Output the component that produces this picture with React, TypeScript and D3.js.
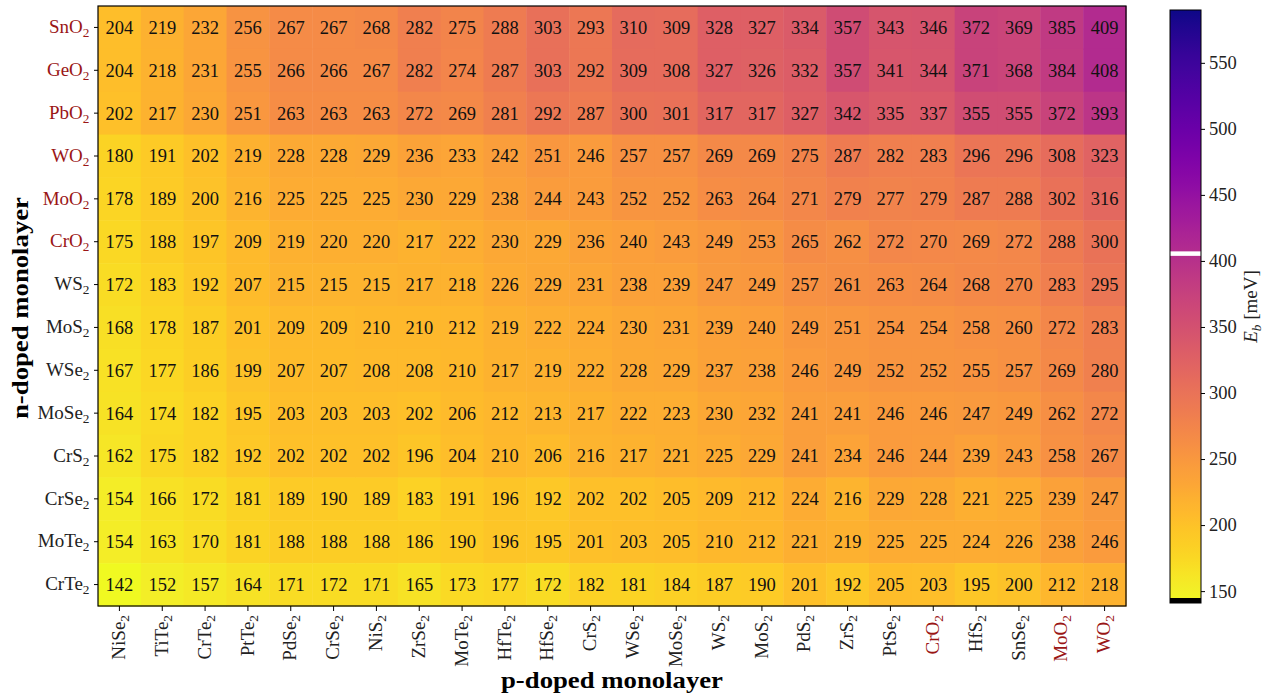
import React, { useRef, useEffect } from "react";
import * as d3 from "d3";

// n-doped (rows, top to bottom) and p-doped (columns, left to right)
const nDoped = ["SnO2", "GeO2", "PbO2", "WO2", "MoO2", "CrO2", "WS2", "MoS2", "WSe2", "MoSe2", "CrS2", "CrSe2", "MoTe2", "CrTe2"];
const pDoped = ["NiSe2", "TiTe2", "CrTe2", "PtTe2", "PdSe2", "CrSe2", "NiS2", "ZrSe2", "MoTe2", "HfTe2", "HfSe2", "CrS2", "WSe2", "MoSe2", "WS2", "MoS2", "PdS2", "ZrS2", "PtSe2", "CrO2", "HfS2", "SnSe2", "MoO2", "WO2"];
const oxides = ["SnO2", "GeO2", "PbO2", "WO2", "MoO2", "CrO2"];

// binding energies E_b [meV], one array per n-doped monolayer
const sno2 = [204, 219, 232, 256, 267, 267, 268, 282, 275, 288, 303, 293, 310, 309, 328, 327, 334, 357, 343, 346, 372, 369, 385, 409];
const geo2 = [204, 218, 231, 255, 266, 266, 267, 282, 274, 287, 303, 292, 309, 308, 327, 326, 332, 357, 341, 344, 371, 368, 384, 408];
const pbo2 = [202, 217, 230, 251, 263, 263, 263, 272, 269, 281, 292, 287, 300, 301, 317, 317, 327, 342, 335, 337, 355, 355, 372, 393];
const wo2 = [180, 191, 202, 219, 228, 228, 229, 236, 233, 242, 251, 246, 257, 257, 269, 269, 275, 287, 282, 283, 296, 296, 308, 323];
const moo2 = [178, 189, 200, 216, 225, 225, 225, 230, 229, 238, 244, 243, 252, 252, 263, 264, 271, 279, 277, 279, 287, 288, 302, 316];
const cro2 = [175, 188, 197, 209, 219, 220, 220, 217, 222, 230, 229, 236, 240, 243, 249, 253, 265, 262, 272, 270, 269, 272, 288, 300];
const ws2 = [172, 183, 192, 207, 215, 215, 215, 217, 218, 226, 229, 231, 238, 239, 247, 249, 257, 261, 263, 264, 268, 270, 283, 295];
const mos2 = [168, 178, 187, 201, 209, 209, 210, 210, 212, 219, 222, 224, 230, 231, 239, 240, 249, 251, 254, 254, 258, 260, 272, 283];
const wse2 = [167, 177, 186, 199, 207, 207, 208, 208, 210, 217, 219, 222, 228, 229, 237, 238, 246, 249, 252, 252, 255, 257, 269, 280];
const mose2 = [164, 174, 182, 195, 203, 203, 203, 202, 206, 212, 213, 217, 222, 223, 230, 232, 241, 241, 246, 246, 247, 249, 262, 272];
const crs2 = [162, 175, 182, 192, 202, 202, 202, 196, 204, 210, 206, 216, 217, 221, 225, 229, 241, 234, 246, 244, 239, 243, 258, 267];
const crse2 = [154, 166, 172, 181, 189, 190, 189, 183, 191, 196, 192, 202, 202, 205, 209, 212, 224, 216, 229, 228, 221, 225, 239, 247];
const mote2 = [154, 163, 170, 181, 188, 188, 188, 186, 190, 196, 195, 201, 203, 205, 210, 212, 221, 219, 225, 225, 224, 226, 238, 246];
const crte2 = [142, 152, 157, 164, 171, 172, 171, 165, 173, 177, 172, 182, 181, 184, 187, 190, 201, 192, 205, 203, 195, 200, 212, 218];
const rowValues = [sno2, geo2, pbo2, wo2, moo2, cro2, ws2, mos2, wse2, mose2, crs2, crse2, mote2, crte2];

// colour bar
const cbDomain = [141, 590];
const cbTicks = [150, 200, 250, 300, 350, 400, 450, 500, 550];
const cbMarks = [
  { value: 405.5, color: "#ffffff" },
  { value: 143, color: "#000000" },
];

const FONT = "'Liberation Serif', 'DejaVu Serif', serif";
const RED = "#9a1616";

const subLabel = (sel, name) => {
  sel.text(null);
  sel.append("tspan").text(name.slice(0, -1));
  sel.append("tspan").attr("dy", "0.3em").attr("font-size", "0.7em").text(name.slice(-1));
};

const App = () => {
  const svgRef = useRef();

  useEffect(() => {
    const svg = d3.select(svgRef.current);
    svg.selectAll("*").remove();
    const width = 1284;
    const height = 698;
    const plot = { left: 98, top: 6, right: 1126, bottom: 606 };
    const bar = { left: 1170, right: 1201, top: 10, bottom: 603 };

    svg.attr("viewBox", [0, 0, width, height]);

    const x = d3.scaleBand().domain(pDoped).range([plot.left, plot.right]);
    const y = d3.scaleBand().domain(nDoped).range([plot.top, plot.bottom]);
    const cb = d3.scaleLinear().domain(cbDomain).range([bar.bottom, bar.top]);
    const color = (v) => d3.interpolatePlasma((cbDomain[1] - v) / (cbDomain[1] - cbDomain[0]));

    const cells = [];
    nDoped.forEach((r, i) => pDoped.forEach((c, j) => cells.push({ r, c, v: rowValues[i][j] })));

    svg
      .append("g")
      .selectAll("rect")
      .data(cells)
      .join("rect")
      .attr("x", (d) => x(d.c))
      .attr("y", (d) => y(d.r))
      .attr("width", x.bandwidth() + 0.5)
      .attr("height", y.bandwidth() + 0.5)
      .attr("fill", (d) => color(d.v));

    svg
      .append("g")
      .attr("font-family", FONT)
      .attr("font-size", 18.5)
      .attr("text-anchor", "middle")
      .attr("fill", "#111")
      .selectAll("text")
      .data(cells)
      .join("text")
      .attr("x", (d) => x(d.c) + x.bandwidth() / 2)
      .attr("y", (d) => y(d.r) + y.bandwidth() / 2)
      .attr("dy", "0.35em")
      .text((d) => d.v);

    svg
      .append("rect")
      .attr("x", plot.left)
      .attr("y", plot.top)
      .attr("width", plot.right - plot.left)
      .attr("height", plot.bottom - plot.top)
      .attr("fill", "none")
      .attr("stroke", "#000")
      .attr("stroke-width", 1.2);

    // y axis
    const yAxis = svg
      .append("g")
      .attr("transform", `translate(${plot.left},0)`)
      .call(d3.axisLeft(y).tickSize(4).tickPadding(4.5))
      .attr("font-family", FONT)
      .attr("font-size", 19);
    yAxis.select(".domain").remove();
    yAxis.selectAll(".tick text").each(function (d) {
      const t = d3.select(this);
      t.attr("fill", oxides.includes(d) ? RED : "#222").attr("dy", "0.3em");
      subLabel(t, d);
    });

    // x axis
    const xAxis = svg
      .append("g")
      .attr("transform", `translate(0,${plot.bottom})`)
      .call(d3.axisBottom(x).tickSize(5).tickPadding(4))
      .attr("font-family", FONT)
      .attr("font-size", 19);
    xAxis.select(".domain").remove();
    xAxis.selectAll(".tick text").each(function (d) {
      const t = d3.select(this);
      t.attr("transform", "rotate(-90)")
        .attr("text-anchor", "end")
        .attr("x", -9)
        .attr("y", 0)
        .attr("dy", "0.3em")
        .attr("fill", oxides.includes(d) ? RED : "#222");
      subLabel(t, d);
    });

    // axis titles
    svg
      .append("text")
      .attr("x", (plot.left + plot.right) / 2)
      .attr("y", 688)
      .attr("text-anchor", "middle")
      .attr("font-family", FONT)
      .attr("font-weight", "bold")
      .attr("font-size", 24)
      .attr("textLength", 222)
      .attr("lengthAdjust", "spacingAndGlyphs")
      .text("p-doped monolayer");

    svg
      .append("text")
      .attr("transform", `translate(28,${(plot.top + plot.bottom) / 2 + 2}) rotate(-90)`)
      .attr("text-anchor", "middle")
      .attr("font-family", FONT)
      .attr("font-weight", "bold")
      .attr("font-size", 24)
      .attr("textLength", 222)
      .attr("lengthAdjust", "spacingAndGlyphs")
      .text("n-doped monolayer");

    // colour bar
    const grad = svg
      .append("defs")
      .append("linearGradient")
      .attr("id", "cbgrad")
      .attr("x1", 0)
      .attr("y1", 1)
      .attr("x2", 0)
      .attr("y2", 0);
    d3.range(0, 41).forEach((i) => {
      const v = cbDomain[0] + ((cbDomain[1] - cbDomain[0]) * i) / 40;
      grad.append("stop").attr("offset", `${(i / 40) * 100}%`).attr("stop-color", color(v));
    });

    svg
      .append("rect")
      .attr("x", bar.left)
      .attr("y", bar.top)
      .attr("width", bar.right - bar.left)
      .attr("height", bar.bottom - bar.top)
      .attr("fill", "url(#cbgrad)");

    svg
      .append("g")
      .selectAll("rect")
      .data(cbMarks)
      .join("rect")
      .attr("x", bar.left)
      .attr("y", (d) => Math.min(cb(d.value) - 2.3, bar.bottom - 5))
      .attr("width", bar.right - bar.left)
      .attr("height", (d) => (d.color === "#000000" ? bar.bottom - Math.min(cb(d.value) - 2.3, bar.bottom - 5) : 4.5))
      .attr("fill", (d) => d.color);

    svg
      .append("rect")
      .attr("x", bar.left)
      .attr("y", bar.top)
      .attr("width", bar.right - bar.left)
      .attr("height", bar.bottom - bar.top)
      .attr("fill", "none")
      .attr("stroke", "#000")
      .attr("stroke-width", 1);

    const cAxis = svg
      .append("g")
      .attr("transform", `translate(${bar.right},0)`)
      .call(d3.axisRight(cb).tickValues(cbTicks).tickSize(4).tickPadding(4))
      .attr("font-family", FONT)
      .attr("font-size", 18.5);
    cAxis.select(".domain").remove();
    cAxis.selectAll(".tick text").attr("fill", "#222");

    const cLabel = svg
      .append("text")
      .attr("transform", `translate(1257,${(bar.top + bar.bottom) / 2}) rotate(-90)`)
      .attr("text-anchor", "middle")
      .attr("font-family", FONT)
      .attr("font-size", 19)
      .attr("fill", "#222");
    cLabel.append("tspan").attr("font-style", "italic").text("E");
    cLabel.append("tspan").attr("font-style", "italic").attr("font-size", "0.7em").attr("dy", "0.3em").text("b");
    cLabel.append("tspan").attr("dy", "-0.21em").text(" [meV]");
  }, []);

  return (
    <svg
      ref={svgRef}
      width="1284"
      height="698"
      style={{ position: "absolute", left: 0, top: 0, background: "#fff" }}
    ></svg>
  );
};

export default App;
